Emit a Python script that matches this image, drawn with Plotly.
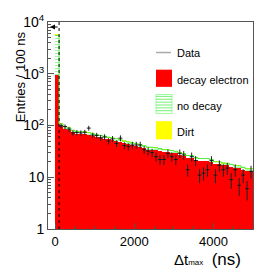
import numpy as np
import plotly.graph_objects as go

# ---- data (100 ns bins from 0 to 5000 ns) ----
bin_width = 100
bin_low = list(range(0, 5000, 100))

decay_electron = [950, 99, 89, 83, 75, 71, 70, 69, 67, 64, 62, 59, 57, 55, 53, 51, 49, 46, 44, 42,
                  41, 39, 37, 35, 35, 34, 33, 31, 31, 30, 29, 27, 26, 24, 24, 22, 21, 21, 21, 20,
                  18, 18, 17, 17, 16, 15, 15, 14, 13, 13]
no_decay = [4550, 8, 7, 7, 6, 6, 6, 6, 5.5, 5, 5, 5, 5, 4.5, 4.5, 4.5, 4, 4, 4, 4,
            3.5, 3.5, 3.5, 3, 3, 3, 3, 3, 3, 2.8, 2.7, 2.6, 2.5, 2.4, 2.3, 2.2, 2.1, 2, 2, 2,
            1.9, 1.8, 1.8, 1.7, 1.7, 1.6, 1.6, 1.5, 1.5, 1.5]
dirt = [250, 0.5, 0.5, 0.4, 0.4, 0.4, 0.4, 0.4, 0.3, 0.3, 0.3, 0.3, 0.3, 0.3, 0.3, 0.3, 0.3, 0.2, 0.2, 0.2,
        0.2, 0.2, 0.2, 0.2, 0.2, 0.2, 0.2, 0.2, 0.2, 0.2, 0.1, 0.1, 0.1, 0.1, 0.1, 0.1, 0.1, 0.1, 0.1, 0.1,
        0.1, 0.1, 0.1, 0.1, 0.1, 0.1, 0.1, 0.1, 0.1, 0.1]
data_counts = [None, 99, 95, 85, 72, 73, 72, 74, 89, 65, 64, 58, 60, 50, 55, 45, 57, 41, 39, 42,
               42, 42, 34, 32, 30, 25, 22, 22, 29, 25, 22, 29, 27, 14, 25, 21, 11, 12, 14, 21,
               11, 17, 14, 15, 9, 14, 7, 11, 6, 13]

cut_value = 100          # dashed cut line (ns)
arrow_end = -130         # arrow pointing to the kept region
arrow_level = 8000

y_tickvals = [1, 10, 100, 1000, 10000]
y_ticktext = ["1", "10", "10<sup>2</sup>", "10<sup>3</sup>", "10<sup>4</sup>"]
x_tickvals = [0, 2000, 4000]

RED = "#ff0000"
GREEN = "#44ee44"
YELLOW = "#ffff00"
FRAME = "#555555"

centers = [b + bin_width / 2 for b in bin_low]

fig = go.Figure()
fig.add_trace(go.Bar(x=centers, y=decay_electron, width=bin_width,
                     marker=dict(color=RED, line=dict(width=0)), name="decay electron"))
fig.add_trace(go.Bar(x=centers, y=no_decay, width=bin_width,
                     marker=dict(color="white", line=dict(width=0),
                                 pattern=dict(shape="-", fgcolor=GREEN, bgcolor="white",
                                              size=3, solidity=0.35)),
                     name="no decay"))
fig.add_trace(go.Bar(x=centers, y=dirt, width=bin_width,
                     marker=dict(color=YELLOW, line=dict(width=0)), name="Dirt"))

# green outline (top of no-decay stack)
tot = [a + b for a, b in zip(decay_electron, no_decay)]
edges = bin_low + [bin_low[-1] + bin_width]
fig.add_trace(go.Scatter(x=edges, y=tot + [tot[-1]], mode="lines",
                         line=dict(color=GREEN, width=1, shape="hv"), hoverinfo="skip"))

# data with errors
dx = [c for c, d in zip(centers, data_counts) if d is not None]
dy = [d for d in data_counts if d is not None]
fig.add_trace(go.Scatter(x=dx, y=dy, mode="markers",
                         marker=dict(size=1, color="black"),
                         error_x=dict(type="constant", value=bin_width / 2, width=0,
                                      color="#222222", thickness=1),
                         error_y=dict(type="data", array=list(np.sqrt(dy)), width=0,
                                      color="#222222", thickness=1),
                         name="Data"))

# cut line
fig.add_shape(type="line", xref="x", yref="paper", x0=cut_value, x1=cut_value, y0=0, y1=1,
              line=dict(color="black", width=1, dash="dot"))
fig.add_annotation(x=arrow_end, y=np.log10(arrow_level), ax=cut_value, ay=np.log10(arrow_level),
                   xref="x", yref="y", axref="x", ayref="y", text="", showarrow=True,
                   arrowhead=2, arrowsize=1, arrowwidth=1, arrowcolor="black")

# ---- legend (drawn) ----
def px2x(px):
    return (px - 48) / 205.0

def py2y(py):
    return (229 - py) / 217.0

fig.add_shape(type="line", xref="paper", yref="paper", x0=px2x(156), x1=px2x(171),
              y0=py2y(44), y1=py2y(44), line=dict(color="#aaaaaa", width=1.5))
fig.add_shape(type="rect", xref="paper", yref="paper", x0=px2x(156), x1=px2x(172),
              y0=py2y(80), y1=py2y(62), fillcolor=RED, line=dict(width=0))
fig.add_shape(type="rect", xref="paper", yref="paper", x0=px2x(156), x1=px2x(172),
              y0=py2y(108), y1=py2y(88), fillcolor="white", line=dict(color="#99ff99", width=1))
for yy in range(90, 108, 3):
    fig.add_shape(type="line", xref="paper", yref="paper", x0=px2x(156), x1=px2x(172),
                  y0=py2y(yy), y1=py2y(yy), line=dict(color="#77f077", width=1))
fig.add_shape(type="rect", xref="paper", yref="paper", x0=px2x(156), x1=px2x(172),
              y0=py2y(135), y1=py2y(116), fillcolor=YELLOW, line=dict(width=0))
for lab, yy in [("Data", 45), ("decay electron", 73), ("no decay", 100), ("Dirt", 127)]:
    fig.add_annotation(x=px2x(175), y=py2y(yy), xref="paper", yref="paper", text=lab,
                       showarrow=False, xanchor="left", yanchor="middle",
                       font=dict(size=11, color="black"))

# axis titles
fig.add_annotation(x=px2x(20), y=py2y(69), xref="paper", yref="paper",
                   text="Entries / 100 ns", textangle=-90, showarrow=False,
                   xanchor="center", yanchor="middle", font=dict(size=13, color="black"))
fig.add_annotation(x=px2x(243), y=py2y(261), xref="paper", yref="paper",
                   text="Δt<span style=\"font-size:8px\">max</span>  <span style=\"font-size:17px\">(ns)</span>",
                   showarrow=False, xanchor="right", yanchor="middle",
                   font=dict(size=15, color="black"))

fig.update_layout(
    width=275, height=275,
    margin=dict(l=48, r=22, t=12, b=46),
    paper_bgcolor="white", plot_bgcolor="white",
    showlegend=False, barmode="stack", bargap=0,
    font=dict(family="Liberation Sans, Arial, sans-serif", color="black"),
    xaxis=dict(range=[-180, 5000], tickvals=x_tickvals, ticks="inside", ticklen=6,
               tickcolor=FRAME, showline=True, linecolor=FRAME, linewidth=1, mirror=True,
               showgrid=False, zeroline=False, tickfont=dict(size=13),
               minor=dict(dtick=500, tick0=0, ticks="inside", ticklen=3, tickcolor=FRAME)),
    yaxis=dict(type="log", range=[0, 4], tickvals=y_tickvals, ticktext=y_ticktext,
               ticks="inside", ticklen=6, tickcolor=FRAME, showline=True, linecolor=FRAME,
               linewidth=1, mirror=True, showgrid=False, zeroline=False,
               tickfont=dict(size=14),
               minor=dict(ticks="inside", ticklen=3, tickcolor=FRAME, dtick="D1")),
)

fig.write_html("out.html", config={"displayModeBar": False},
               post_script="document.body.style.margin='0';")
